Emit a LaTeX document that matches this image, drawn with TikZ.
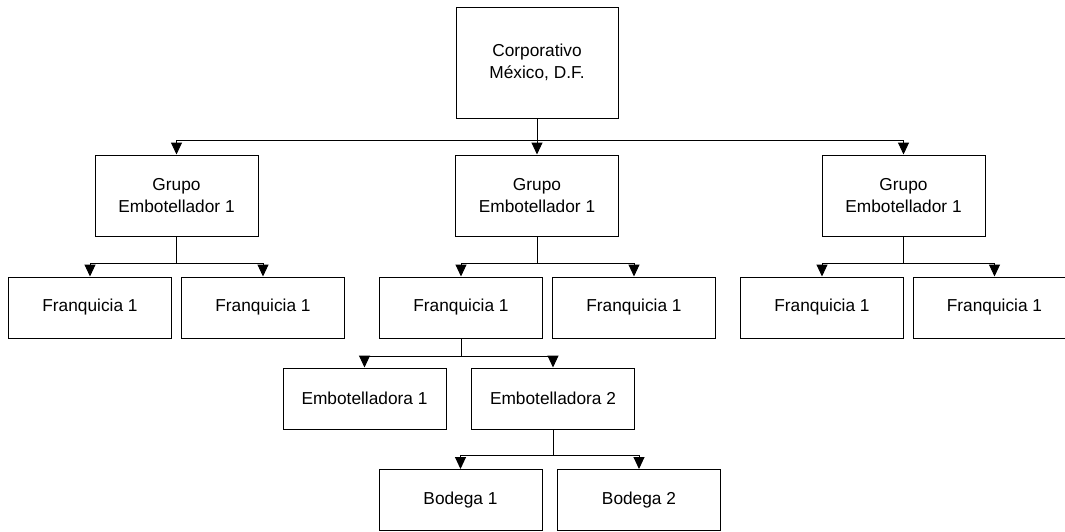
\documentclass[tikz,border=0pt]{standalone}
\usepackage{fontspec}
\setmainfont{Liberation Sans}
\usetikzlibrary{arrows.meta}
\begin{document}
\begin{tikzpicture}[x=1pt,y=-1pt,
  orgbox/.style={draw=black, line width=1pt, fill=white, minimum width=163pt,
    minimum height=61pt, inner sep=0pt, align=center,
    font=\fontsize{17.3}{21.5}\selectfont},
  tallbox/.style={orgbox, minimum height=81pt},
  topbox/.style={orgbox, minimum width=162pt, minimum height=111pt},
  conn/.style={draw=black, line width=1pt, -{Triangle[width=11pt,length=12pt]}}]
\useasboundingbox (0,0) rectangle (1065,531);
\clip (0,0) rectangle (1065,531);

% head office
\node[topbox] (corp) at (537,62.5) {Corporativo\\México, D.F.};

% bottling groups
\node[tallbox] (g1) at (176.5,195.5) {Grupo\\Embotellador 1};
\node[tallbox] (g2) at (537,195.5)   {Grupo\\Embotellador 1};
\node[tallbox] (g3) at (903.5,195.5) {Grupo\\Embotellador 1};

% franchises
\node[orgbox] (f1) at (90,307.5)    {Franquicia 1};
\node[orgbox] (f2) at (263,307.5)   {Franquicia 1};
\node[orgbox] (f3) at (461,307.5)   {Franquicia 1};
\node[orgbox] (f4) at (634,307.5)   {Franquicia 1};
\node[orgbox] (f5) at (822,307.5)   {Franquicia 1};
\node[orgbox] (f6) at (994.5,307.5) {Franquicia 1};

% bottling plants
\node[orgbox] (e1) at (364.5,398.5) {Embotelladora 1};
\node[orgbox] (e2) at (553,398.5)   {Embotelladora 2};

% warehouses
\node[orgbox] (b1) at (460.5,500) {Bodega 1};
\node[orgbox] (b2) at (639,500)   {Bodega 2};

% junction points on each bus line
\coordinate (j0) at (537,140);
\coordinate (j1) at (176.5,263.5);
\coordinate (j2) at (537,263.5);
\coordinate (j3) at (903.5,263.5);
\coordinate (j4) at (461,356);
\coordinate (j5) at (553,455);

% connectors
\draw[conn] (corp.south) -- (j0) -| (g1.north);
\draw[conn] (corp.south) -- (j0) -| (g2.north);
\draw[conn] (corp.south) -- (j0) -| (g3.north);

\draw[conn] (g1.south) -- (j1) -| (f1.north);
\draw[conn] (g1.south) -- (j1) -| (f2.north);
\draw[conn] (g2.south) -- (j2) -| (f3.north);
\draw[conn] (g2.south) -- (j2) -| (f4.north);
\draw[conn] (g3.south) -- (j3) -| (f5.north);
\draw[conn] (g3.south) -- (j3) -| (f6.north);

\draw[conn] (f3.south) -- (j4) -| (e1.north);
\draw[conn] (f3.south) -- (j4) -| (e2.north);

\draw[conn] (e2.south) -- (j5) -| (b1.north);
\draw[conn] (e2.south) -- (j5) -| (b2.north);
\end{tikzpicture}
\end{document}
